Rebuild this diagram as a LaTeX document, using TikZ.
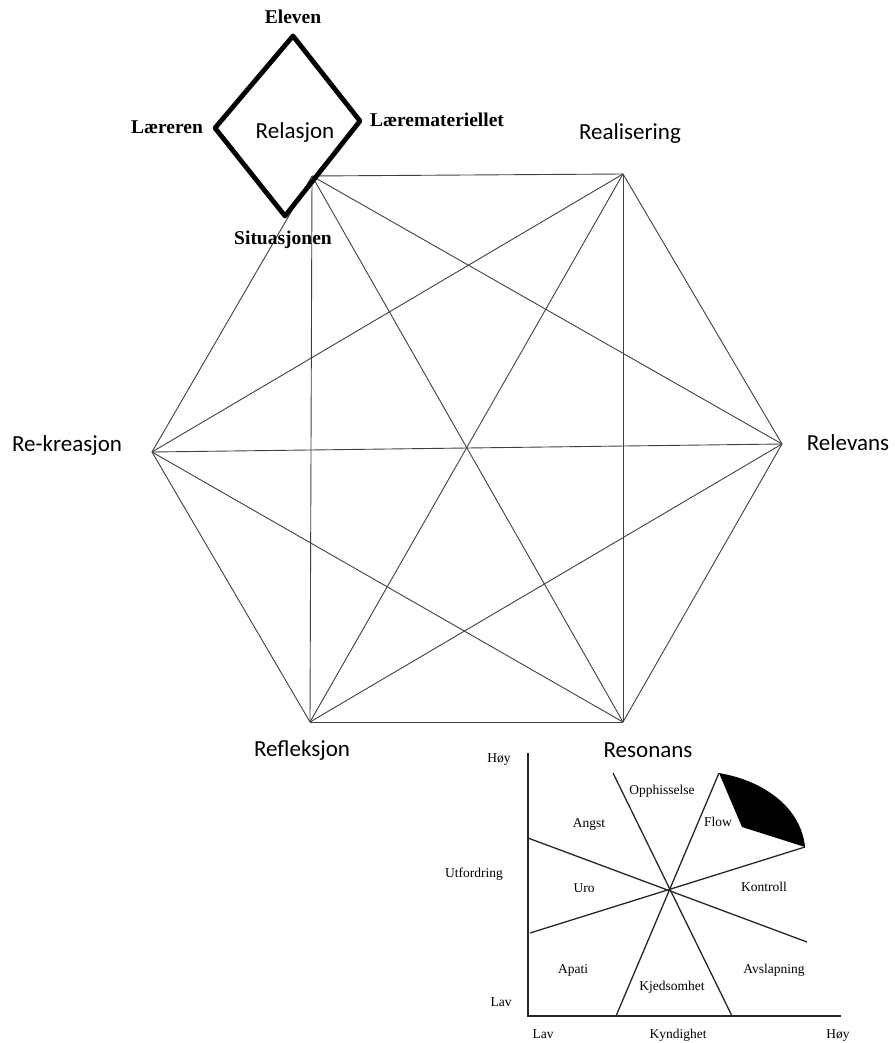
\documentclass[tikz,border=0pt]{standalone}
\usepackage{fontspec}
\setmainfont{Liberation Serif}
\newfontfamily\calib{Carlito}
\begin{document}
\begin{tikzpicture}[x=1pt,y=-1pt,
  hexlabel/.style={font=\calib\fontsize{23}{26}\selectfont, inner sep=0pt},
  dialabel/.style={font=\bfseries\fontsize{19.5}{22}\selectfont, inner sep=0pt},
  chartlabel/.style={font=\fontsize{13.5}{15}\selectfont, inner sep=0pt, anchor=base},
  web/.style={draw=black!75, line width=0.9pt},
  frame/.style={draw=black, line width=4.8pt, line join=round, line cap=round},
  chartline/.style={draw=black!85, line width=1.3pt}]
\useasboundingbox (0,0) rectangle (894,1043);

% the six R's: hexagon corners
\coordinate (tl) at (312,176);
\coordinate (tr) at (623,174);
\coordinate (r)  at (782,444);
\coordinate (br) at (623,722);
\coordinate (bl) at (310,722);
\coordinate (l)  at (152,452);

% every corner joined to every other
\foreach \a/\b in {tl/tr,tl/r,tl/br,tl/bl,tl/l,
                   tr/r,tr/br,tr/bl,tr/l,
                   r/br,r/bl,r/l,
                   br/bl,br/l,
                   bl/l}
  \draw[web] (\a) -- (\b);

\node[hexlabel] (realisering) at (630,133) {Realisering};
\node[hexlabel] (relevans)    at (848,443) {Relevans};
\node[hexlabel] (rekreasjon)  at (67,445)  {Re-kreasjon};
\node[hexlabel] (refleksjon)  at (302,750) {Refleksjon};
\node[hexlabel] (resonans)    at (648,750) {Resonans};

% the relation diamond
\coordinate (dt) at (293,36);
\coordinate (dr) at (360,121);
\coordinate (db) at (285,216);
\coordinate (dl) at (215,128);
\draw[frame] (dt) -- (dr) -- (db) -- (dl) -- cycle;

\node[hexlabel] (relasjon) at (295,132) {Relasjon};
\node[dialabel] (eleven)   at (293,17)  {Eleven};
\node[dialabel] (laereren) at (167,127) {Læreren};
\node[dialabel] (materiell) at (437,120) {Læremateriellet};
\node[dialabel] (situasjon) at (283,240) {Situasjonen};

% flow chart: skill against challenge
\coordinate (origin) at (528,1016);
\coordinate (ytop)   at (528,753);
\coordinate (xend)   at (841,1016);
\draw[chartline] (ytop) -- (origin) -- (xend);

\coordinate (a1) at (613,773);  \coordinate (a2) at (732,1016);
\coordinate (b1) at (719,773);  \coordinate (b2) at (616,1016);
\coordinate (c1) at (528,838);  \coordinate (c2) at (807,942);
\coordinate (d1) at (530,933);  \coordinate (d2) at (805,847);
\draw[chartline] (a1) -- (a2);
\draw[chartline] (b1) -- (b2);
\draw[chartline] (c1) -- (c2);
\draw[chartline] (d1) -- (d2);

% shaded flow sector
\coordinate (f0) at (742,827);
\fill[black] (b1) .. controls (765,781) and (801,808) .. (d2) -- (f0) -- cycle;

\node[chartlabel] (hoyy)   at (499,762.5)  {Høy};
\node[chartlabel] (lavy)   at (501,1006.5) {Lav};
\node[chartlabel] (utf)    at (474,877)    {Utfordring};
\node[chartlabel] (lavx)   at (543,1038)   {Lav};
\node[chartlabel] (kynd)   at (678,1038)   {Kyndighet};
\node[chartlabel] (hoyx)   at (838,1038)   {Høy};
\node[chartlabel] (opph)   at (662,794)    {Opphisselse};
\node[chartlabel] (angst)  at (589,827)    {Angst};
\node[chartlabel] (flow)   at (718,826.5)  {Flow};
\node[chartlabel] (uro)    at (584,892.5)  {Uro};
\node[chartlabel] (kontr)  at (764,891.5)  {Kontroll};
\node[chartlabel] (apati)  at (573,973)    {Apati};
\node[chartlabel] (avsl)   at (774,973)    {Avslapning};
\node[chartlabel] (kjed)   at (672,990)    {Kjedsomhet};
\end{tikzpicture}
\end{document}
